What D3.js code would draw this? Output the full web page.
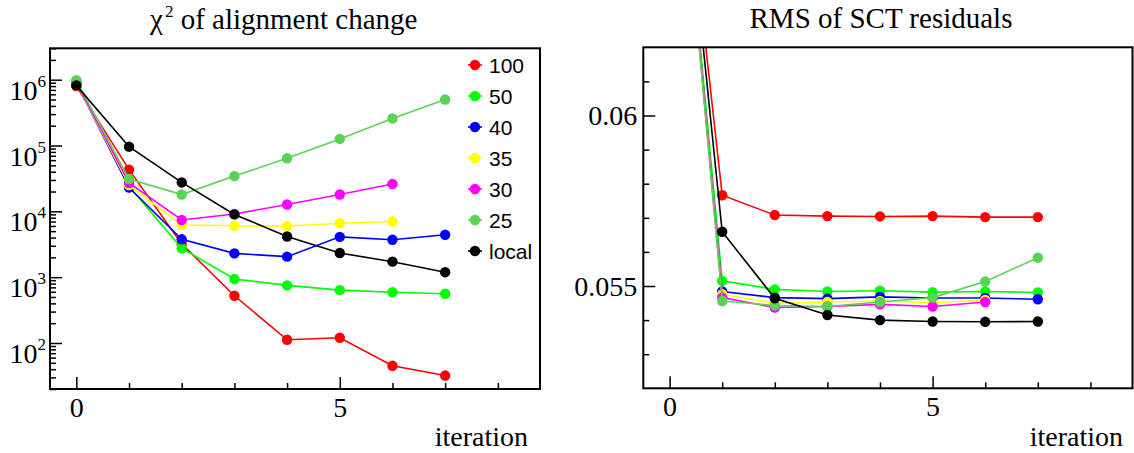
<!DOCTYPE html>
<html>
<head>
<meta charset="utf-8">
<script src="https://cdn.jsdelivr.net/npm/d3@7"></script>
<style>
  html, body { margin: 0; padding: 0; background: #fff; }
  svg { display: block; }
</style>
</head>
<body>
<svg id="chart" width="1134" height="453"></svg>
<script>
// ---------------- data ----------------
const iterations = [0, 1, 2, 3, 4, 5, 6, 7];
const seriesNames = ["100", "50", "40", "35", "30", "25", "local"];
const seriesColors = ["#ff0000", "#00ff00", "#0000ff", "#ffff00", "#ff00ff", "#59d354", "#000000"];

// chi^2 of alignment change (left panel, log scale)
const chi100   = [8.0e5, 4.3e4, 3.2e3, 522, 112, 120, 45, 32];
const chi50    = [9.3e5, 2.4e4, 2.75e3, 937, 750, 635, 590, 560];
const chi40    = [9.0e5, 2.3e4, 3.76e3, 2300, 2050, 4100, 3700, 4400];
const chi35    = [9.0e5, 2.5e4, 6200, 6030, 6000, 6600, 7000];
const chi30    = [9.2e5, 2.7e4, 7400, 9100, 12700, 18000, 26000];
const chi25    = [9.8e5, 3.1e4, 1.8e4, 34300, 64000, 126000, 258000, 500000];
const chiLocal = [8.2e5, 9.6e4, 2.75e4, 8980, 4150, 2330, 1720, 1190];

// RMS of SCT residuals (right panel)
const rms100   = [0.0716, 0.05766, 0.05708, 0.05705, 0.05704, 0.05705, 0.05702, 0.05702];
const rms50    = [0.0716, 0.05515, 0.05490, 0.05484, 0.05486, 0.05482, 0.05484, 0.05481];
const rms40    = [0.0716, 0.05484, 0.05466, 0.05463, 0.05468, 0.05465, 0.05465, 0.05461];
const rms35    = [0.0716, 0.05476, 0.05449, 0.05453, 0.05456, 0.05451, 0.05459];
const rms30    = [0.0716, 0.05466, 0.05437, 0.05440, 0.05446, 0.05440, 0.05453];
const rms25    = [0.0716, 0.05456, 0.05443, 0.05440, 0.05453, 0.05466, 0.05513, 0.05583];
const rmsLocal = [0.0716, 0.05659, 0.05464, 0.05415, 0.05400, 0.05396, 0.05395, 0.05396];

const xMajorTicks = [0, 5];
const xMinorTicks = [1, 2, 3, 4, 6, 7, 8];
const logMajorTicks = [1e2, 1e3, 1e4, 1e5, 1e6];
const logExponents = ["2", "3", "4", "5", "6"];
const rmsMajorTicks = [0.055, 0.06];
const rmsMinorTicks = [0.053, 0.054, 0.056, 0.057, 0.058, 0.059, 0.061];

const leftTitle = ["χ", "2", " of alignment change"];
const rightTitle = "RMS of SCT residuals";
const xAxisTitle = "iteration";

const SERIF = "'Liberation Serif', 'Times New Roman', Times, 'DejaVu Serif', serif";
const SANS = "'Liberation Sans', Arial, Helvetica, sans-serif";

// ---------------- drawing ----------------
const svg = d3.select("#chart");

function makeSeries(arrays) {
  return arrays.map((vals, i) => ({
    name: seriesNames[i],
    color: seriesColors[i],
    pts: vals.map((v, j) => ({ x: iterations[j], y: v }))
  }));
}

function serifText(sel) {
  return sel.style("font-family", SERIF).attr("fill", "#000");
}

function drawFrameAndData(g, id, x, y, series) {
  const [x0, x1] = x.range();
  const [yb, yt] = y.range();
  g.append("clipPath").attr("id", id)
    .append("rect").attr("x", x0).attr("y", yt).attr("width", x1 - x0).attr("height", yb - yt);
  const dg = g.append("g").attr("clip-path", `url(#${id})`);
  const line = d3.line().x(d => x(d.x)).y(d => y(d.y));
  series.forEach(s => {
    dg.append("path").datum(s.pts)
      .attr("d", line).attr("fill", "none")
      .attr("stroke", s.color).attr("stroke-width", 1.6);
    dg.selectAll(null).data(s.pts).enter().append("circle")
      .attr("cx", d => x(d.x)).attr("cy", d => y(d.y)).attr("r", 5.2)
      .attr("fill", s.color);
  });
}

function drawXAxis(g, x, yPix) {
  const maj = g.append("g").attr("transform", `translate(0,${yPix})`)
    .call(d3.axisBottom(x).tickValues(xMajorTicks).tickSize(-12).tickPadding(8).tickFormat(d3.format("d")));
  const mnr = g.append("g").attr("transform", `translate(0,${yPix})`)
    .call(d3.axisBottom(x).tickValues(xMinorTicks).tickSize(-6).tickFormat(""));
  [maj, mnr].forEach(a => {
    a.select(".domain").remove();
    a.selectAll(".tick line").attr("stroke", "#000").attr("stroke-width", 1.5);
  });
  maj.attr("font-family", null);
  serifText(maj.selectAll(".tick text")).attr("font-size", 28);
}

function drawFrame(g, x, y) {
  const [x0, x1] = x.range();
  const [yb, yt] = y.range();
  g.append("rect").attr("x", x0).attr("y", yt).attr("width", x1 - x0).attr("height", yb - yt)
    .attr("fill", "none").attr("stroke", "#000").attr("stroke-width", 2);
}

// ===== Left panel =====
const xL = d3.scaleLinear().domain([-0.5, 8.8]).range([50, 540]);
const yL = d3.scaleLog().domain([20, 3e6]).range([389, 48.3]);
const gL = svg.append("g");

drawFrameAndData(gL, "clipL", xL, yL,
  makeSeries([chi100, chi50, chi40, chi35, chi30, chi25, chiLocal]));

// log y ticks
const logAll = yL.ticks();
const logMinor = logAll.filter(v => !logMajorTicks.includes(v));
const yLmaj = gL.append("g").attr("transform", "translate(50,0)")
  .call(d3.axisLeft(yL).tickValues(logMajorTicks).tickSize(-12).tickFormat(""));
const yLmin = gL.append("g").attr("transform", "translate(50,0)")
  .call(d3.axisLeft(yL).tickValues(logMinor).tickSize(-6).tickFormat(""));
[yLmaj, yLmin].forEach(a => {
  a.select(".domain").remove();
  a.selectAll(".tick line").attr("stroke", "#000").attr("stroke-width", 1.5);
});
// log labels 10^n
logMajorTicks.forEach((v, i) => {
  const t = serifText(gL.append("text"))
    .attr("x", 46).attr("y", yL(v) + 20)
    .attr("text-anchor", "end").attr("font-size", 28);
  t.append("tspan").text("10");
  t.append("tspan").attr("dy", -13).attr("font-size", 17).text(logExponents[i]);
});

drawXAxis(gL, xL, 389);
drawFrame(gL, xL, yL);

// title
const tL = serifText(gL.append("text")).attr("x", 150).attr("y", 29).attr("font-size", 29);
tL.append("tspan").text(leftTitle[0]);
tL.append("tspan").attr("dy", -12).attr("font-size", 17).attr("dx", 2).text(leftTitle[1]);
tL.append("tspan").attr("dy", 12).text(leftTitle[2]);

serifText(gL.append("text")).attr("x", 528).attr("y", 446)
  .attr("text-anchor", "end").attr("font-size", 28).text(xAxisTitle);

// legend
const legend = gL.append("g");
seriesNames.forEach((name, i) => {
  const ly = 65 + 31 * i;
  legend.append("line").attr("x1", 468).attr("x2", 482).attr("y1", ly).attr("y2", ly)
    .attr("stroke", seriesColors[i]).attr("stroke-width", 1.6);
  legend.append("circle").attr("cx", 475).attr("cy", ly).attr("r", 5.2).attr("fill", seriesColors[i]);
  legend.append("text").style("font-family", SANS).attr("x", 489).attr("y", ly + 8)
    .attr("font-size", 21).attr("fill", "#000").text(name);
});

// ===== Right panel =====
const xR = d3.scaleLinear().domain([-0.5, 8.8]).range([643.3, 1132.5]);
const yR = d3.scaleLinear().domain([0.052, 0.062]).range([388.3, 47.3]);
const gR = svg.append("g");

drawFrameAndData(gR, "clipR", xR, yR,
  makeSeries([rms100, rms50, rms40, rms35, rms30, rms25, rmsLocal]));

const yRmaj = gR.append("g").attr("transform", "translate(643.3,0)")
  .call(d3.axisLeft(yR).tickValues(rmsMajorTicks).tickSize(-12).tickPadding(6).tickFormat(d => String(+d.toFixed(4))));
const yRmin = gR.append("g").attr("transform", "translate(643.3,0)")
  .call(d3.axisLeft(yR).tickValues(rmsMinorTicks).tickSize(-6).tickFormat(""));
[yRmaj, yRmin].forEach(a => {
  a.select(".domain").remove();
  a.selectAll(".tick line").attr("stroke", "#000").attr("stroke-width", 1.5);
});
serifText(yRmaj.selectAll(".tick text")).attr("font-size", 28).attr("dy", "0.33em");

drawXAxis(gR, xR, 388.3);
drawFrame(gR, xR, yR);

serifText(gR.append("text")).attr("x", 881).attr("y", 28)
  .attr("text-anchor", "middle").attr("font-size", 29).text(rightTitle);
serifText(gR.append("text")).attr("x", 1123).attr("y", 446)
  .attr("text-anchor", "end").attr("font-size", 28).text(xAxisTitle);
</script>
</body>
</html>
